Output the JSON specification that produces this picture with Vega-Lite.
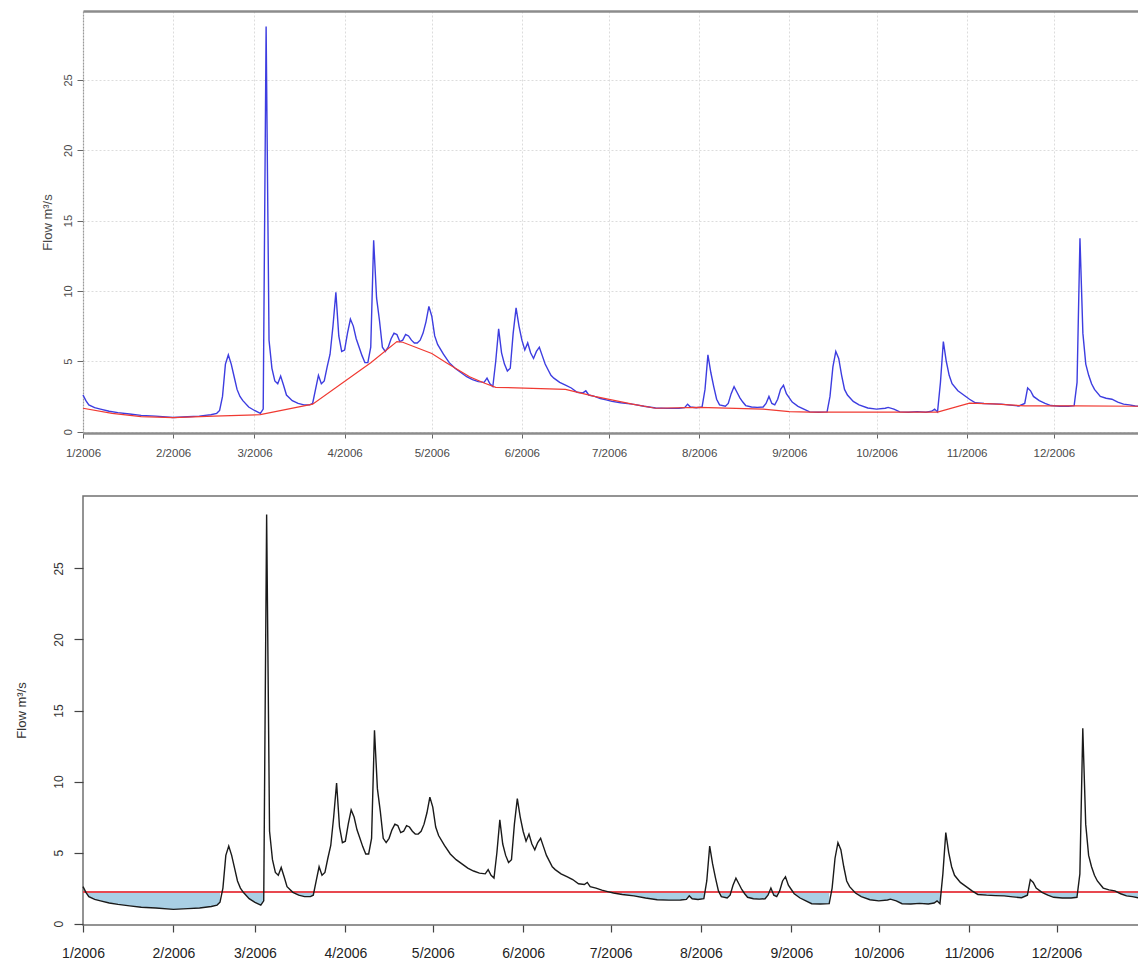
{
  "$schema": "https://vega.github.io/schema/vega-lite/v6.json",
  "padding": {"left": 14, "top": 11, "right": 0, "bottom": 5},
  "background": "white",
  "bounds": "flush",
  "spacing": 63,
  "config": {"font": "Liberation Sans"},
  "data": {
    "format": {"parse": {"d": "date:'%Y-%m-%d'"}},
    "values": [
      {"d":"2006-01-01","q":2.6},{"d":"2006-01-02","q":2.2,"low":2.2},{"d":"2006-01-03","q":1.9,"low":1.9},{"d":"2006-01-05","q":1.7,"low":1.7},{"d":"2006-01-07","q":1.6,"low":1.6},{"d":"2006-01-10","q":1.45,"low":1.45},{"d":"2006-01-13","q":1.35,"low":1.35},{"d":"2006-01-17","q":1.25,"low":1.25},{"d":"2006-01-21","q":1.15,"low":1.15},{"d":"2006-01-26","q":1.1,"low":1.1},
      {"d":"2006-02-01","q":1.0,"low":1.0},{"d":"2006-02-06","q":1.05,"low":1.05},{"d":"2006-02-10","q":1.1,"low":1.1},{"d":"2006-02-12","q":1.15,"low":1.15},{"d":"2006-02-14","q":1.2,"low":1.2},{"d":"2006-02-16","q":1.3,"low":1.3},{"d":"2006-02-17","q":1.5,"low":1.5},{"d":"2006-02-18","q":2.5},{"d":"2006-02-19","q":4.8},{"d":"2006-02-20","q":5.45},{"d":"2006-02-21","q":4.8},{"d":"2006-02-22","q":3.9},{"d":"2006-02-23","q":3.0},{"d":"2006-02-24","q":2.5},{"d":"2006-02-25","q":2.2,"low":2.2},{"d":"2006-02-27","q":1.75,"low":1.75},
      {"d":"2006-03-01","q":1.5,"low":1.5},{"d":"2006-03-03","q":1.3,"low":1.3},{"d":"2006-03-04","q":1.6,"low":1.6},{"d":"2006-03-05","q":28.8},{"d":"2006-03-06","q":6.5},{"d":"2006-03-07","q":4.5},{"d":"2006-03-08","q":3.6},{"d":"2006-03-09","q":3.4},{"d":"2006-03-10","q":3.95},{"d":"2006-03-11","q":3.3},{"d":"2006-03-12","q":2.6},{"d":"2006-03-14","q":2.2,"low":2.2},{"d":"2006-03-16","q":2.0,"low":2.0},{"d":"2006-03-18","q":1.9,"low":1.9},{"d":"2006-03-20","q":1.9,"low":1.9},{"d":"2006-03-21","q":2.0,"low":2.0},{"d":"2006-03-22","q":3.0},{"d":"2006-03-23","q":4.0},{"d":"2006-03-24","q":3.4},{"d":"2006-03-25","q":3.6},{"d":"2006-03-26","q":4.6},{"d":"2006-03-27","q":5.5},{"d":"2006-03-28","q":7.5},{"d":"2006-03-29","q":9.9},{"d":"2006-03-30","q":6.8},{"d":"2006-03-31","q":5.7},
      {"d":"2006-04-01","q":5.8},{"d":"2006-04-02","q":7.0},{"d":"2006-04-03","q":8.0},{"d":"2006-04-04","q":7.5},{"d":"2006-04-05","q":6.6},{"d":"2006-04-06","q":6.0},{"d":"2006-04-07","q":5.4},{"d":"2006-04-08","q":4.9},{"d":"2006-04-09","q":4.9},{"d":"2006-04-10","q":6.0},{"d":"2006-04-11","q":13.6},{"d":"2006-04-12","q":9.5},{"d":"2006-04-13","q":7.9},{"d":"2006-04-14","q":6.0},{"d":"2006-04-15","q":5.7},{"d":"2006-04-16","q":6.0},{"d":"2006-04-17","q":6.6},{"d":"2006-04-18","q":7.0},{"d":"2006-04-19","q":6.9},{"d":"2006-04-20","q":6.4},{"d":"2006-04-21","q":6.5},{"d":"2006-04-22","q":6.9},{"d":"2006-04-23","q":6.8},{"d":"2006-04-24","q":6.5},{"d":"2006-04-25","q":6.3},{"d":"2006-04-26","q":6.3},{"d":"2006-04-27","q":6.5},{"d":"2006-04-28","q":7.0},{"d":"2006-04-29","q":7.8},{"d":"2006-04-30","q":8.9},
      {"d":"2006-05-01","q":8.2},{"d":"2006-05-02","q":6.8},{"d":"2006-05-03","q":6.2},{"d":"2006-05-05","q":5.5},{"d":"2006-05-07","q":4.9},{"d":"2006-05-09","q":4.5},{"d":"2006-05-11","q":4.2},{"d":"2006-05-13","q":3.9},{"d":"2006-05-15","q":3.7},{"d":"2006-05-17","q":3.55},{"d":"2006-05-19","q":3.5},{"d":"2006-05-20","q":3.8},{"d":"2006-05-21","q":3.4},{"d":"2006-05-22","q":3.2},{"d":"2006-05-23","q":5.0},{"d":"2006-05-24","q":7.3},{"d":"2006-05-25","q":5.6},{"d":"2006-05-26","q":4.8},{"d":"2006-05-27","q":4.3},{"d":"2006-05-28","q":4.5},{"d":"2006-05-29","q":7.0},{"d":"2006-05-30","q":8.8},{"d":"2006-05-31","q":7.5},
      {"d":"2006-06-01","q":6.5},{"d":"2006-06-02","q":5.8},{"d":"2006-06-03","q":6.3},{"d":"2006-06-04","q":5.6},{"d":"2006-06-05","q":5.2},{"d":"2006-06-06","q":5.7},{"d":"2006-06-07","q":6.0},{"d":"2006-06-08","q":5.4},{"d":"2006-06-09","q":4.8},{"d":"2006-06-10","q":4.4},{"d":"2006-06-11","q":4.0},{"d":"2006-06-12","q":3.8},{"d":"2006-06-14","q":3.5},{"d":"2006-06-16","q":3.3},{"d":"2006-06-18","q":3.1},{"d":"2006-06-20","q":2.8},{"d":"2006-06-22","q":2.75},{"d":"2006-06-23","q":2.9},{"d":"2006-06-24","q":2.6},{"d":"2006-06-26","q":2.5},{"d":"2006-06-28","q":2.35},{"d":"2006-06-30","q":2.25},
      {"d":"2006-07-02","q":2.15,"low":2.15},{"d":"2006-07-05","q":2.05,"low":2.05},{"d":"2006-07-09","q":1.95,"low":1.95},{"d":"2006-07-13","q":1.8,"low":1.8},{"d":"2006-07-17","q":1.68,"low":1.68},{"d":"2006-07-21","q":1.65,"low":1.65},{"d":"2006-07-25","q":1.66,"low":1.66},{"d":"2006-07-27","q":1.7,"low":1.7},{"d":"2006-07-28","q":1.95,"low":1.95},{"d":"2006-07-29","q":1.75,"low":1.75},{"d":"2006-07-31","q":1.7,"low":1.7},
      {"d":"2006-08-02","q":1.75,"low":1.75},{"d":"2006-08-03","q":3.0},{"d":"2006-08-04","q":5.45},{"d":"2006-08-05","q":4.2},{"d":"2006-08-06","q":3.2},{"d":"2006-08-07","q":2.3},{"d":"2006-08-08","q":1.9,"low":1.9},{"d":"2006-08-10","q":1.8,"low":1.8},{"d":"2006-08-11","q":2.0,"low":2.0},{"d":"2006-08-12","q":2.7},{"d":"2006-08-13","q":3.2},{"d":"2006-08-14","q":2.8},{"d":"2006-08-15","q":2.4},{"d":"2006-08-16","q":2.1,"low":2.1},{"d":"2006-08-17","q":1.85,"low":1.85},{"d":"2006-08-19","q":1.75,"low":1.75},{"d":"2006-08-21","q":1.72,"low":1.72},{"d":"2006-08-23","q":1.75,"low":1.75},{"d":"2006-08-24","q":2.0,"low":2.0},{"d":"2006-08-25","q":2.5},{"d":"2006-08-26","q":2.0,"low":2.0},{"d":"2006-08-27","q":1.9,"low":1.9},{"d":"2006-08-28","q":2.3},{"d":"2006-08-29","q":3.0},{"d":"2006-08-30","q":3.3},{"d":"2006-08-31","q":2.7},
      {"d":"2006-09-01","q":2.4},{"d":"2006-09-02","q":2.1,"low":2.1},{"d":"2006-09-04","q":1.8,"low":1.8},{"d":"2006-09-06","q":1.6,"low":1.6},{"d":"2006-09-08","q":1.4,"low":1.4},{"d":"2006-09-11","q":1.38,"low":1.38},{"d":"2006-09-14","q":1.4,"low":1.4},{"d":"2006-09-15","q":2.5},{"d":"2006-09-16","q":4.6},{"d":"2006-09-17","q":5.7},{"d":"2006-09-18","q":5.2},{"d":"2006-09-19","q":4.0},{"d":"2006-09-20","q":3.0},{"d":"2006-09-21","q":2.6},{"d":"2006-09-23","q":2.15,"low":2.15},{"d":"2006-09-25","q":1.9,"low":1.9},{"d":"2006-09-28","q":1.68,"low":1.68},
      {"d":"2006-10-01","q":1.6,"low":1.6},{"d":"2006-10-04","q":1.66,"low":1.66},{"d":"2006-10-05","q":1.72,"low":1.72},{"d":"2006-10-07","q":1.6,"low":1.6},{"d":"2006-10-09","q":1.4,"low":1.4},{"d":"2006-10-12","q":1.38,"low":1.38},{"d":"2006-10-15","q":1.42,"low":1.42},{"d":"2006-10-18","q":1.38,"low":1.38},{"d":"2006-10-20","q":1.45,"low":1.45},{"d":"2006-10-21","q":1.6,"low":1.6},{"d":"2006-10-22","q":1.4,"low":1.4},{"d":"2006-10-23","q":3.5},{"d":"2006-10-24","q":6.4},{"d":"2006-10-25","q":5.0},{"d":"2006-10-26","q":4.0},{"d":"2006-10-27","q":3.4},{"d":"2006-10-29","q":2.9},{"d":"2006-10-31","q":2.6},
      {"d":"2006-11-02","q":2.3},{"d":"2006-11-04","q":2.05,"low":2.05},{"d":"2006-11-07","q":2.0,"low":2.0},{"d":"2006-11-10","q":1.97,"low":1.97},{"d":"2006-11-13","q":1.95,"low":1.95},{"d":"2006-11-16","q":1.88,"low":1.88},{"d":"2006-11-19","q":1.82,"low":1.82},{"d":"2006-11-21","q":2.0,"low":2.0},{"d":"2006-11-22","q":3.1},{"d":"2006-11-23","q":2.9},{"d":"2006-11-24","q":2.5},{"d":"2006-11-26","q":2.2,"low":2.2},{"d":"2006-11-28","q":2.0,"low":2.0},{"d":"2006-11-30","q":1.85,"low":1.85},
      {"d":"2006-12-03","q":1.8,"low":1.8},{"d":"2006-12-06","q":1.8,"low":1.8},{"d":"2006-12-08","q":1.85,"low":1.85},{"d":"2006-12-09","q":3.5},{"d":"2006-12-10","q":13.75},{"d":"2006-12-11","q":7.0},{"d":"2006-12-12","q":4.8},{"d":"2006-12-13","q":4.0},{"d":"2006-12-14","q":3.4},{"d":"2006-12-15","q":3.0},{"d":"2006-12-17","q":2.5},{"d":"2006-12-19","q":2.37},{"d":"2006-12-21","q":2.3},{"d":"2006-12-23","q":2.1,"low":2.1},{"d":"2006-12-25","q":1.95,"low":1.95},{"d":"2006-12-27","q":1.9,"low":1.9},{"d":"2006-12-29","q":1.82,"low":1.82},{"d":"2006-12-31","q":1.8,"low":1.8}
    ]
  },
  "vconcat": [
    {
      "width": 1058,
      "height": 422,
      "view": {"stroke": null},
      "resolve": {"axis": {"x": "independent"}},
      "layer": [
        {
          "mark": {"type": "line", "color": "#3d3de0", "strokeWidth": 1.4},
          "encoding": {
            "x": {
              "field": "d", "type": "temporal",
              "scale": {"domain": [{"year": 2006, "month": 1, "date": 1}, {"year": 2006, "month": 12, "date": 31}], "nice": false},
              "axis": {
                "orient": "bottom",
                "values": [{"year":2006,"month":1,"date":1},{"year":2006,"month":2,"date":1},{"year":2006,"month":3,"date":1},{"year":2006,"month":4,"date":1},{"year":2006,"month":5,"date":1},{"year":2006,"month":6,"date":1},{"year":2006,"month":7,"date":1},{"year":2006,"month":8,"date":1},{"year":2006,"month":9,"date":1},{"year":2006,"month":10,"date":1},{"year":2006,"month":11,"date":1},{"year":2006,"month":12,"date":1}],
                "format": "%-m/%Y", "title": null,
                "grid": true, "gridColor": "#dcdcdc", "gridDash": [2, 2], "gridWidth": 1,
                "domainColor": "#8c8c8c", "domainWidth": 2.5,
                "tickColor": "#666666", "tickSize": 5, "tickWidth": 1,
                "labelFontSize": 11.5, "labelColor": "#4a4a4a", "labelPadding": 9,
                "labelFlush": false, "labelOverlap": false, "labelBound": false
              }
            },
            "y": {
              "field": "q", "type": "quantitative", "title": "Flow m³/s",
              "scale": {"domain": [-0.1, 29.9], "nice": false, "zero": false},
              "axis": {
                "values": [0, 5, 10, 15, 20, 25],
                "grid": true, "gridColor": "#dcdcdc", "gridDash": [2, 2], "gridWidth": 1,
                "domainColor": "#9a9a9a", "domainDash": [2, 1], "domainWidth": 1.2,
                "tickColor": "#666666", "tickSize": 6,
                "labelAngle": 270, "labelAlign": "center", "labelBaseline": "bottom",
                "labelPadding": 4, "labelFontSize": 11, "labelColor": "#4a4a4a",
                "titleFontSize": 13, "titleFontWeight": "normal", "titleColor": "#4a4a4a",
                "titleAngle": 270, "titleBaseline": "middle", "titleAlign": "center",
                "titleX": -36, "titleY": 211
              }
            }
          }
        },
        {
          "data": {
            "format": {"parse": {"d": "date:'%Y-%m-%d'"}},
            "values": [
              {"d":"2006-01-01","q":1.66},{"d":"2006-01-11","q":1.3},{"d":"2006-01-21","q":1.07},{"d":"2006-02-01","q":1.0},{"d":"2006-02-15","q":1.1},{"d":"2006-03-03","q":1.2},{"d":"2006-03-21","q":1.95},{"d":"2006-04-10","q":4.9},{"d":"2006-04-19","q":6.4},{"d":"2006-04-21","q":6.35},{"d":"2006-05-01","q":5.55},{"d":"2006-05-06","q":4.9},{"d":"2006-05-14","q":3.9},{"d":"2006-05-19","q":3.45},{"d":"2006-05-23","q":3.15},{"d":"2006-06-16","q":3.0},{"d":"2006-06-26","q":2.5},{"d":"2006-07-09","q":1.95},{"d":"2006-07-17","q":1.66},{"d":"2006-08-01","q":1.72},{"d":"2006-08-23","q":1.6},{"d":"2006-09-01","q":1.42},{"d":"2006-09-08","q":1.38},{"d":"2006-10-22","q":1.38},{"d":"2006-11-02","q":2.02},{"d":"2006-11-10","q":1.97},{"d":"2006-11-21","q":1.83},{"d":"2006-12-08","q":1.83},{"d":"2006-12-31","q":1.8}
            ]
          },
          "mark": {"type": "line", "color": "#f03a32", "strokeWidth": 1.2},
          "encoding": {
            "x": {
              "field": "d", "type": "temporal",
              "scale": {"domain": [{"year": 2006, "month": 1, "date": 1}, {"year": 2006, "month": 12, "date": 31}], "nice": false},
              "axis": {"orient": "top", "labels": false, "ticks": false, "grid": false, "title": null, "domainColor": "#8c8c8c", "domainWidth": 2.5}
            },
            "y": {
              "field": "q", "type": "quantitative", "title": "Flow m³/s",
              "scale": {"domain": [-0.1, 29.9], "nice": false, "zero": false}
            }
          }
        }
      ]
    },
    {
      "width": 1061,
      "height": 429,
      "view": {"stroke": "#707070", "strokeWidth": 1.5},
      "layer": [
        {
          "mark": {"type": "area", "color": "#a9cfe4", "opacity": 1},
          "encoding": {
            "x": {
              "field": "d", "type": "temporal",
              "scale": {"domain": [{"year": 2006, "month": 1, "date": 1}, {"year": 2006, "month": 12, "date": 31}], "nice": false},
              "axis": {
                "values": [{"year":2006,"month":1,"date":1},{"year":2006,"month":2,"date":1},{"year":2006,"month":3,"date":1},{"year":2006,"month":4,"date":1},{"year":2006,"month":5,"date":1},{"year":2006,"month":6,"date":1},{"year":2006,"month":7,"date":1},{"year":2006,"month":8,"date":1},{"year":2006,"month":9,"date":1},{"year":2006,"month":10,"date":1},{"year":2006,"month":11,"date":1},{"year":2006,"month":12,"date":1}],
                "format": "%-m/%Y", "title": null, "grid": false, "domain": false,
                "tickColor": "#444444", "tickSize": 7, "tickWidth": 1.2,
                "labelFontSize": 14, "labelColor": "#222222", "labelPadding": 14,
                "labelFlush": false, "labelOverlap": false, "labelBound": false
              }
            },
            "y": {
              "field": "low", "type": "quantitative", "title": "Flow m³/s",
              "scale": {"domain": [-0.1, 30.1], "nice": false, "zero": false},
              "axis": {
                "values": [0, 5, 10, 15, 20, 25], "grid": false, "domain": false,
                "tickColor": "#444444", "tickSize": 9, "tickWidth": 1.2,
                "labelAngle": 270, "labelAlign": "center", "labelBaseline": "bottom",
                "labelPadding": 8.5, "labelFontSize": 12, "labelColor": "#333333",
                "titleFontSize": 13, "titleFontWeight": "normal", "titleColor": "#333333",
                "titleAngle": 270, "titleBaseline": "middle", "titleAlign": "center",
                "titleX": -62, "titleY": 214
              }
            },
            "y2": {"datum": 2.2}
          }
        },
        {
          "mark": {"type": "rule", "color": "#e8484f", "strokeWidth": 1.2},
          "encoding": {"y": {"datum": 2.2, "type": "quantitative", "scale": {"domain": [-0.1, 30.1], "nice": false, "zero": false}}}
        },
        {
          "mark": {"type": "line", "color": "#1a1a1a", "strokeWidth": 1.4},
          "encoding": {
            "x": {
              "field": "d", "type": "temporal",
              "scale": {"domain": [{"year": 2006, "month": 1, "date": 1}, {"year": 2006, "month": 12, "date": 31}], "nice": false}
            },
            "y": {
              "field": "q", "type": "quantitative", "title": "Flow m³/s",
              "scale": {"domain": [-0.1, 30.1], "nice": false, "zero": false}
            }
          }
        }
      ]
    }
  ]
}
